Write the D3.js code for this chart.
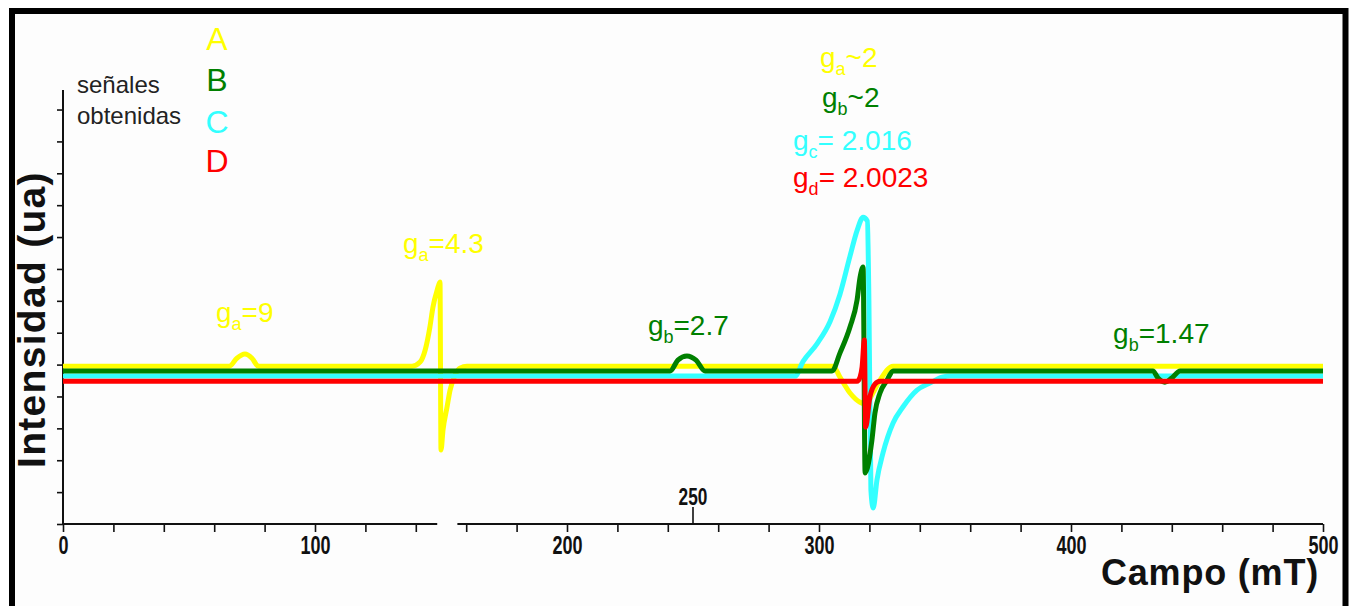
<!DOCTYPE html>
<html>
<head>
<meta charset="utf-8">
<title>Señales EPR</title>
<script src="https://d3js.org/d3.v7.min.js"></script>
<style>
  body { margin: 0; background: #fff; }
  svg { display: block; }
  text { font-family: "Liberation Sans", Arial, sans-serif; }
</style>
</head>
<body>
<div id="chart"></div>
<script>
// series A (yellow)
const fieldA = [0, 66, 69, 72.2, 75, 77.5, 138.5, 141.7, 143.7, 145.6, 146.8, 148.5, 149.6, 150.0, 150.8, 152.4, 153.6, 155.6, 157.5, 160.3, 305.6, 308.3, 312.3, 316.3, 318.7, 321.4, 324.2, 329.4, 500];
const intA   = [4.95, 4.95, 5.20, 5.33, 5.20, 4.95, 4.95, 5.08, 5.45, 6.18, 6.80, 7.34, 7.59, 2.32, 2.95, 3.67, 4.20, 4.67, 4.89, 4.95, 4.95, 4.61, 4.11, 3.82, 3.76, 4.11, 4.51, 4.95, 4.95];
// series B (green)
const fieldB = [0, 240.9, 244, 247.6, 251.2, 254.8, 305.2, 308.3, 312.3, 315.1, 316.3, 317.5, 318.3, 321, 322.2, 324.2, 327, 329.4, 432.5, 434.5, 437.3, 440, 443.3, 500];
const intB   = [4.80, 4.80, 5.14, 5.27, 5.14, 4.80, 4.80, 5.36, 6.18, 7.02, 7.74, 8.06, 1.60, 2.63, 3.48, 4.11, 4.51, 4.80, 4.80, 4.58, 4.45, 4.58, 4.80, 4.80];
// series C (cyan)
const fieldC = [0, 290.5, 293.7, 299.2, 304.4, 308.3, 312.3, 315.1, 317.5, 319.2, 319.8, 320.6, 321.5, 323, 325.4, 329.4, 333.3, 338.9, 344, 349.2, 352, 500];
const intC   = [4.64, 4.64, 5.10, 5.65, 6.35, 7.20, 8.40, 9.20, 9.62, 9.50, 7.02, 1.07, 0.50, 1.38, 2.23, 3.17, 3.67, 4.20, 4.42, 4.61, 4.64, 4.64];
// series D (red)
const fieldD = [0, 315.1, 316.3, 317.1, 318.0, 318.5, 320.2, 322.2, 324.2, 500];
const intD   = [4.48, 4.48, 4.61, 4.92, 5.77, 3.04, 3.98, 4.39, 4.48, 4.48];

const seriesNames = ["A", "B", "C", "D"];
const seriesColors = ["#ffff00", "#008000", "#33ffff", "#ff0000"];

// x axis
const xTicksLeft = [0, 20, 40, 60, 80, 100, 120, 140];
const xTicksRight = [160, 180, 200, 220, 240, 260, 280, 300, 320, 340, 360, 380, 400, 420, 440, 460, 480, 500];
const xLabels = [0, 100, 200, 300, 400, 500];
const xBreak = [148.5, 156.5];
const xMark = 250;
const yTicks = d3.range(0, 14);

// g-value annotations: anchor in (field, intensity)
const annoText = [
  { g: "a", rest: "=9",       f: 60.7,  v: 6.33,  c: 0 },
  { g: "a", rest: "=4.3",     f: 134.9, v: 8.50,  c: 0 },
  { g: "b", rest: "=2.7",     f: 232.1, v: 5.92,  c: 1 },
  { g: "b", rest: "=1.47",    f: 416.7, v: 5.67,  c: 1 },
  { g: "a", rest: "~2",       f: 300.4, v: 14.33, c: 0 },
  { g: "b", rest: "~2",       f: 301.2, v: 13.07, c: 1 },
  { g: "c", rest: "= 2.016",  f: 289.7, v: 11.72, c: 2 },
  { g: "d", rest: "= 2.0023", f: 289.7, v: 10.56, c: 3 }
];

const width = 1352, height = 606;
const svg = d3.select("#chart").append("svg")
  .attr("width", width).attr("height", height);

svg.append("rect").attr("width", width).attr("height", height).attr("fill", "#fff");
svg.append("rect").attr("x", 15).attr("y", 14).attr("width", 1328).attr("height", 592).attr("fill", "#fdfdfd");

const x = d3.scaleLinear().domain([0, 500]).range([63, 1323]);
const y = d3.scaleLinear().domain([0, 13.55]).range([524, 92]);

const narrow = "\"Liberation Sans Narrow\", \"Arial Narrow\", \"Liberation Sans\", sans-serif";

// axes
const xAxis = d3.axisBottom(x)
  .tickValues(xTicksLeft.concat(xTicksRight))
  .tickSize(8)
  .tickFormat(d => xLabels.includes(d) ? d : "");
const gx = svg.append("g").attr("transform", `translate(0,${y(0)})`).call(xAxis);
gx.select(".domain").remove();
gx.selectAll(".tick line").attr("stroke", "#111").attr("stroke-width", 1.6);
gx.selectAll(".tick text")
  .attr("fill", "#111")
  .attr("y", 12)
  .attr("transform", "scale(0.72,1)")
  .style("font-family", narrow).style("font-weight", "bold").style("font-size", "25px");

gx.append("line").attr("x1", x(0)).attr("x2", x(xBreak[0])).attr("stroke", "#111").attr("stroke-width", 2);
gx.append("line").attr("x1", x(xBreak[1])).attr("x2", x(500)).attr("stroke", "#111").attr("stroke-width", 2);
gx.append("line").attr("x1", x(xMark)).attr("x2", x(xMark)).attr("y1", 0).attr("y2", -17)
  .attr("stroke", "#111").attr("stroke-width", 1.6);
gx.append("text")
  .attr("transform", `translate(${x(xMark)},-19) scale(0.72,1)`)
  .attr("text-anchor", "middle").attr("fill", "#111")
  .style("font-family", narrow).style("font-weight", "bold").style("font-size", "24px")
  .text(xMark);

const yAxis = d3.axisLeft(y).tickValues(yTicks).tickSize(6).tickFormat("").tickSizeOuter(0);
const gy = svg.append("g").attr("transform", `translate(${x(0)},0)`).call(yAxis);
gy.select(".domain").attr("stroke", "#111").attr("stroke-width", 2).attr("d", `M0,${y(0)}V90`);
gy.selectAll(".tick line").attr("stroke", "#111").attr("stroke-width", 1.6);

// axis titles
svg.append("text")
  .attr("transform", "translate(45,468) rotate(-90)")
  .style("font-size", "39px").style("font-weight", "bold").style("letter-spacing", "1.3px")
  .attr("fill", "#111")
  .text("Intensidad (ua)");
svg.append("text")
  .attr("x", 1319).attr("y", 585).attr("text-anchor", "end")
  .style("font-size", "36px").style("font-weight", "bold").style("letter-spacing", "0.8px")
  .attr("fill", "#111")
  .text("Campo (mT)");

// spectra
const line = d3.line().x(d => x(d[0])).y(d => y(d[1])).curve(d3.curveMonotoneX);
const seriesData = [d3.zip(fieldA, intA), d3.zip(fieldB, intB), d3.zip(fieldC, intC), d3.zip(fieldD, intD)];
[0, 2, 1, 3].forEach(i => {
  svg.append("path")
    .datum(seriesData[i])
    .attr("d", line)
    .attr("fill", "none")
    .attr("stroke", seriesColors[i])
    .attr("stroke-width", 5)
    .attr("stroke-linejoin", "round");
});

// g-value labels
annoText.forEach(d => {
  const t = svg.append("text")
    .attr("x", x(d.f)).attr("y", y(d.v))
    .attr("fill", seriesColors[d.c])
    .style("font-size", "28px");
  t.append("tspan").text("g");
  t.append("tspan").attr("dy", 8).style("font-size", "18px").text(d.g);
  t.append("tspan").attr("dy", -8).text(d.rest);
});

// legend
svg.append("text").attr("x", 77).attr("y", 93).attr("fill", "#222").style("font-size", "24px").text("señales");
svg.append("text").attr("x", 77).attr("y", 124).attr("fill", "#222").style("font-size", "24px").text("obtenidas");
const legendY = [50, 91, 133, 172];
seriesNames.forEach((n, i) => {
  svg.append("text")
    .attr("x", 217).attr("y", legendY[i])
    .attr("text-anchor", "middle")
    .attr("fill", seriesColors[i])
    .style("font-size", "32px")
    .text(n);
});

// frame
svg.append("path")
  .attr("d", "M12,606V11H1345.5V606")
  .attr("fill", "none").attr("stroke", "#000").attr("stroke-width", 6);
</script>
</body>
</html>
